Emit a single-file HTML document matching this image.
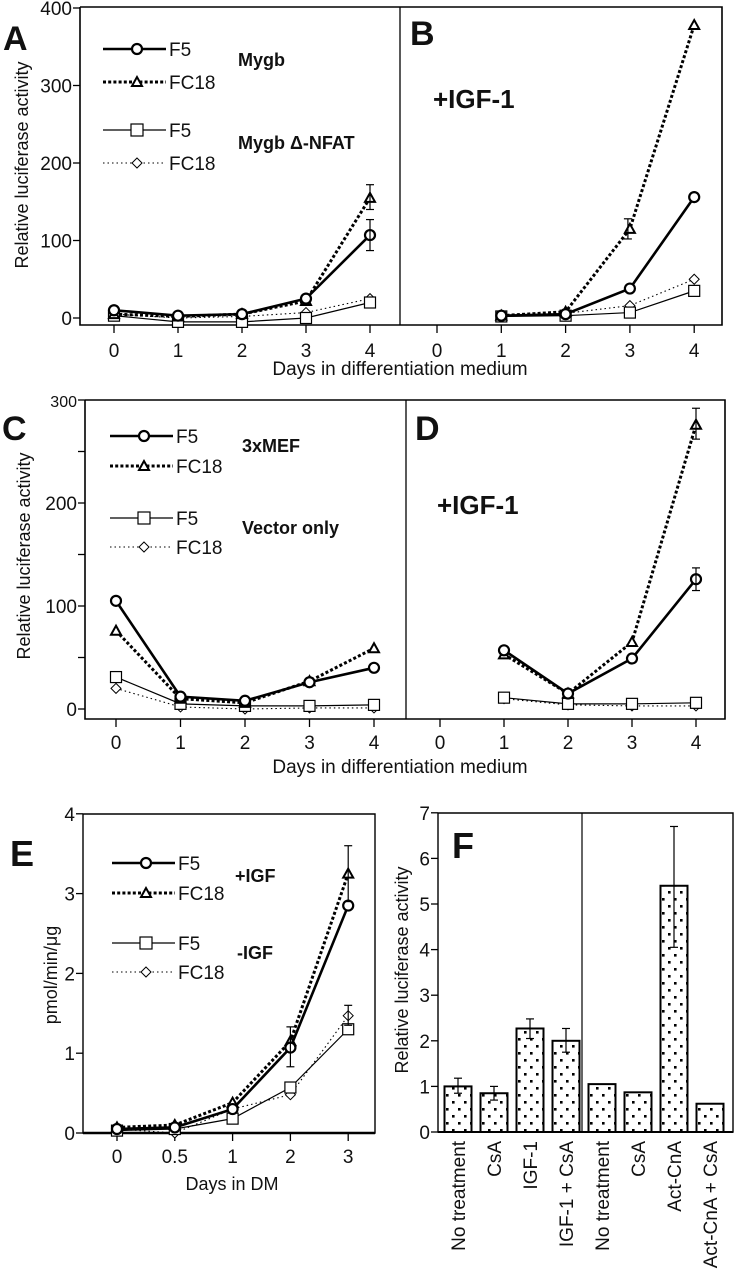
<!DOCTYPE html>
<html><head><meta charset="utf-8"><style>
html,body{margin:0;padding:0;background:#fff;width:734px;height:1280px;overflow:hidden}
svg text{font-family:"Liberation Sans",sans-serif;fill:#111}
</style></head><body>
<svg id="fig" width="734" height="1280" viewBox="0 0 734 1280" xmlns="http://www.w3.org/2000/svg"></svg>
<script>
// ---- Data ----
const daysAB = [0,1,2,3,4];
const daysB = [1,2,3,4];
const aF5 = [10,3,5,25,107];
const aFC18 = [5,2,5,22,155];
const aVecF5 = [3,-5,-5,0,20];
const aVecFC18 = [5,0,2,7,25];
const bF5 = [3,5,38,156];
const bFC18 = [3,8,115,378];
const bVecF5 = [2,3,7,35];
const bVecFC18 = [3,6,16,50];
const cF5 = [105,12,8,26,40];
const cFC18 = [76,10,6,27,59];
const cVecF5 = [31,5,3,3,4];
const cVecFC18 = [20,2,0,1,1];
const dF5 = [57,15,49,126];
const dFC18 = [53,15,65,276];
const dVecF5 = [11,5,5,6];
const dVecFC18 = [10,4,3,3];
const eCats = ["0","0.5","1","2","3"];
const eF5 = [0.05,0.07,0.3,1.07,2.85];
const eFC18 = [0.07,0.1,0.38,1.15,3.25];
const eNoF5 = [0.03,0.05,0.18,0.57,1.3];
const eNoFC18 = [0.05,0.0,0.3,0.48,1.47];
const fCats = ["No treatment","CsA","IGF-1","IGF-1 + CsA","No treatment","CsA","Act-CnA","Act-CnA + CsA"];
const fVals = [1.0,0.85,2.27,2.0,1.05,0.87,5.4,0.62];
const fErrHi = [1.18,1.0,2.48,2.27,null,null,6.7,null];
const fErrLo = [0.85,0.7,2.05,1.75,null,null,4.05,null];

const NS="http://www.w3.org/2000/svg";
const svg=document.getElementById('fig');
function el(tag,attrs,parent){const e=document.createElementNS(NS,tag);for(const k in attrs)e.setAttribute(k,attrs[k]);(parent||svg).appendChild(e);return e;}
function txt(s,x,y,size,weight,anchor,parent){const t=el('text',{x:x,y:y,'font-size':size,'font-weight':weight||'normal','text-anchor':anchor||'start'},parent);t.textContent=s;return t;}

const styles={
 f5:{w:2.6,dash:null},
 fc18:{w:3,dash:"3,2.2"},
 vf5:{w:1.2,dash:null},
 vfc18:{w:1.1,dash:"1.5,3"}
};
function marker(kind,x,y,g,s){
 s=s||5;
 if(kind==='circle') el('circle',{cx:x,cy:y,r:s,fill:'#fff',stroke:'#000','stroke-width':2.2},g);
 else if(kind==='tri') el('polygon',{points:`${x},${y-s} ${x-s},${y+s*0.8} ${x+s},${y+s*0.8}`,fill:'#fff',stroke:'#000','stroke-width':2},g);
 else if(kind==='sq') el('rect',{x:x-s,y:y-s,width:2*s,height:2*s,fill:'#fff',stroke:'#000','stroke-width':1.2},g);
 else el('polygon',{points:`${x},${y-s} ${x+s},${y} ${x},${y+s} ${x-s},${y}`,fill:'#fff',stroke:'#000','stroke-width':1},g);
}
function series(xs,ys,xf,yf,st,mk,g,name){
 const sg=el('g',{},g);
 
 
 const pts=xs.map((x,i)=>xf(x)+','+yf(ys[i])).join(' ');
 const a={points:pts,fill:'none',stroke:'#000','stroke-width':st.w};
 if(st.dash)a['stroke-dasharray']=st.dash;
 el('polyline',a,sg);
 xs.forEach((x,i)=>marker(mk,xf(x),yf(ys[i]),sg,mk==='sq'?5.5:5));
}
function errbar(x,y1,y2,g){el('line',{x1:x,y1:y1,x2:x,y2:y2,stroke:'#000','stroke-width':1.2},g);[y1,y2].forEach(y=>el('line',{x1:x-4,y1:y,x2:x+4,y2:y,stroke:'#000','stroke-width':1.2},g));}
function legend(x0,ys,labels,g){
 const kinds=['circle','tri','sq','dia'],sts=[styles.f5,styles.fc18,styles.vf5,styles.vfc18];
 ys.forEach((y,i)=>{const lg=el('g',{},g);
  
  
  const a={x1:x0,y1:y,x2:x0+63,y2:y,stroke:'#000','stroke-width':sts[i].w};if(sts[i].dash)a['stroke-dasharray']=sts[i].dash;
  el('line',a,lg);marker(kinds[i],x0+34,y,lg,kinds[i]==='sq'?6:5);txt(labels[i],x0+66,y+7,19,'normal','start',lg);});
}

// ---- Panels A/B ----
const gAB=el('g',{});
const yAB=v=>318-v*0.7750;
const xA=d=>114+d*64;
const xB=d=>437+d*64.3;
el('polyline',{points:'80,7 722,7 722,325 80,325 80,7',fill:'none',stroke:'#000','stroke-width':1.6},gAB);
el('line',{x1:400,y1:7,x2:400,y2:325,stroke:'#000','stroke-width':1.3},gAB);
[0,100,200,300,400].forEach(v=>{el('line',{x1:73,y1:yAB(v),x2:80,y2:yAB(v),stroke:'#000','stroke-width':1.3},gAB);txt(String(v),72,yAB(v)+7,19,'normal','end',gAB);});
daysAB.forEach(d=>{[xA(d),xB(d)].forEach(x=>{el('line',{x1:x,y1:325,x2:x,y2:333,stroke:'#000','stroke-width':1.3},gAB);});txt(String(d),xA(d),357,19,'normal','middle',gAB);txt(String(d),xB(d),357,19,'normal','middle',gAB);});
txt('Days in differentiation medium',400,375,19,'normal','middle',gAB);
txt('Relative luciferase activity',0,0,18,'normal','middle',gAB).setAttribute('transform','translate(28,165) rotate(-90)');
txt('A',3,50,34,'bold','start',gAB);txt('B',410,45,34,'bold','start',gAB);
series(daysAB,aVecFC18,xA,yAB,styles.vfc18,'dia',gAB,'a-vector-fc18');
series(daysAB,aVecF5,xA,yAB,styles.vf5,'sq',gAB,'a-vector-f5');
series(daysAB,aFC18,xA,yAB,styles.fc18,'tri',gAB,'a-fc18');
series(daysAB,aF5,xA,yAB,styles.f5,'circle',gAB,'a-f5');
errbar(xA(4),yAB(172),yAB(140),gAB);errbar(xA(4),yAB(127),yAB(87),gAB);
series(daysB,bVecFC18,xB,yAB,styles.vfc18,'dia',gAB,'b-vector-fc18');
series(daysB,bVecF5,xB,yAB,styles.vf5,'sq',gAB,'b-vector-f5');
series(daysB,bFC18,xB,yAB,styles.fc18,'tri',gAB,'b-fc18');
series(daysB,bF5,xB,yAB,styles.f5,'circle',gAB,'b-f5');
errbar(xB(3)-2,yAB(128),yAB(102),gAB);
legend(103,[49,82,130,163],['F5','FC18','F5','FC18'],gAB);
txt('Mygb',238,66,18,'bold','start',gAB);txt('Mygb \u0394-NFAT',238,149,18,'bold','start',gAB);
txt('+IGF-1',433,108,26,'bold','start',gAB);

// ---- Panels C/D ----
const gCD=el('g',{});
const yCD=v=>709-v*1.03;
const xC=d=>116+d*64.5;
const xD=d=>440+d*64;
el('polyline',{points:'85,400 725,400 725,719 85,719 85,400',fill:'none',stroke:'#000','stroke-width':1.6},gCD);
el('line',{x1:406,y1:400,x2:406,y2:719,stroke:'#000','stroke-width':1.3},gCD);
[0,50,100,150,200,250,300].forEach(v=>{el('line',{x1:78,y1:yCD(v),x2:85,y2:yCD(v),stroke:'#000','stroke-width':1.3},gCD);if(v%100===0)txt(String(v),77,yCD(v)+7,v===300?16:19,'normal','end',gCD);});
daysAB.forEach(d=>{[xC(d),xD(d)].forEach(x=>el('line',{x1:x,y1:719,x2:x,y2:727,stroke:'#000','stroke-width':1.3},gCD));txt(String(d),xC(d),749,19,'normal','middle',gCD);txt(String(d),xD(d),749,19,'normal','middle',gCD);});
txt('Days in differentiation medium',400,773,19,'normal','middle',gCD);
txt('Relative luciferase activity',0,0,18,'normal','middle',gCD).setAttribute('transform','translate(30,556) rotate(-90)');
txt('C',2,440,34,'bold','start',gCD);txt('D',415,440,34,'bold','start',gCD);
series(daysAB,cVecFC18,xC,yCD,styles.vfc18,'dia',gCD,'c-vector-fc18');
series(daysAB,cVecF5,xC,yCD,styles.vf5,'sq',gCD,'c-vector-f5');
series(daysAB,cFC18,xC,yCD,styles.fc18,'tri',gCD,'c-fc18');
series(daysAB,cF5,xC,yCD,styles.f5,'circle',gCD,'c-f5');
series(daysB,dVecFC18,xD,yCD,styles.vfc18,'dia',gCD,'d-vector-fc18');
series(daysB,dVecF5,xD,yCD,styles.vf5,'sq',gCD,'d-vector-f5');
series(daysB,dFC18,xD,yCD,styles.fc18,'tri',gCD,'d-fc18');
series(daysB,dF5,xD,yCD,styles.f5,'circle',gCD,'d-f5');
errbar(xD(4),yCD(292),yCD(262),gCD);errbar(xD(4),yCD(137),yCD(115),gCD);
legend(110,[436,466,518,547],['F5','FC18','F5','FC18'],gCD);
txt('3xMEF',242,452,18,'bold','start',gCD);txt('Vector only',242,534,18,'bold','start',gCD);
txt('+IGF-1',437,514,26,'bold','start',gCD);

// ---- Panel E ----
const gE=el('g',{});
const yE=v=>1133-v*79.8;
const xE=i=>117+i*57.8;
const idx=eCats.map((c,i)=>i);
el('polyline',{points:'83,814 375,814 375,1133 83,1133 83,814',fill:'none',stroke:'#000','stroke-width':1.4},gE);
el('line',{x1:83,y1:1133,x2:375,y2:1133,stroke:'#000','stroke-width':2.4},gE);
[0,1,2,3,4].forEach(v=>{el('line',{x1:76,y1:yE(v),x2:83,y2:yE(v),stroke:'#000','stroke-width':1.3},gE);txt(String(v),75,yE(v)+7,19,'normal','end',gE);});
eCats.forEach((c,i)=>{el('line',{x1:xE(i),y1:1133,x2:xE(i),y2:1141,stroke:'#000','stroke-width':1.3},gE);txt(c,xE(i),1163,19,'normal','middle',gE);});
txt('Days in DM',232,1190,18,'normal','middle',gE);
txt('pmol/min/\u03bcg',0,0,18,'normal','middle',gE).setAttribute('transform','translate(57,975) rotate(-90)');
txt('E',10,866,36,'bold','start',gE);
series(idx,eNoFC18,xE,yE,styles.vfc18,'dia',gE,'e-noigf-fc18');
series(idx,eNoF5,xE,yE,styles.vf5,'sq',gE,'e-noigf-f5');
series(idx,eFC18,xE,yE,styles.fc18,'tri',gE,'e-igf-fc18');
series(idx,eF5,xE,yE,styles.f5,'circle',gE,'e-igf-f5');
errbar(xE(3),yE(1.33),yE(0.83),gE);errbar(xE(4),yE(3.6),yE(2.9),gE);errbar(xE(4),yE(1.6),yE(1.35),gE);
legend(112,[863,893,943,972],['F5','FC18','F5','FC18'],gE);
txt('+IGF',235,882,18,'bold','start',gE);txt('-IGF',237,959,18,'bold','start',gE);

// ---- Panel F ----
const gF=el('g',{});
const yF=v=>1132-v*45.6;
const xF=i=>458+i*36;
const defs=el('defs',{});
const pat=el('pattern',{id:'dots',width:12,height:14,patternUnits:'userSpaceOnUse'},defs);
el('rect',{x:2,y:2,width:2.6,height:2.6,fill:'#000'},pat);el('rect',{x:8,y:9,width:2.6,height:2.6,fill:'#000'},pat);
el('polyline',{points:'438,813 733,813 733,1132 438,1132 438,813',fill:'none',stroke:'#000','stroke-width':1.4},gF);
el('line',{x1:582,y1:813,x2:582,y2:1132,stroke:'#000','stroke-width':1.2},gF);
[0,1,2,3,4,5,6,7].forEach(v=>{el('line',{x1:431,y1:yF(v),x2:438,y2:yF(v),stroke:'#000','stroke-width':1.3},gF);txt(String(v),430,yF(v)+7,19,'normal','end',gF);});
txt('Relative luciferase activity',0,0,18,'normal','middle',gF).setAttribute('transform','translate(408,970) rotate(-90)');
txt('F',452,858,36,'bold','start',gF);
fVals.forEach((v,i)=>{
 const b=el('rect',{x:xF(i)-13.5,y:yF(v),width:27,height:yF(0)-yF(v),fill:'url(#dots)',stroke:'#000','stroke-width':2},gF);
 
 
 if(fErrHi[i]!==null)errbar(xF(i),yF(fErrHi[i]),yF(fErrLo[i]),gF);
 const t=txt(fCats[i],0,0,19,'normal','end',gF);t.setAttribute('transform',`translate(${xF(i)+7},1141) rotate(-90)`);
});
el('line',{x1:438,y1:1132,x2:733,y2:1132,stroke:'#000','stroke-width':2},gF);
</script>
</body></html>
